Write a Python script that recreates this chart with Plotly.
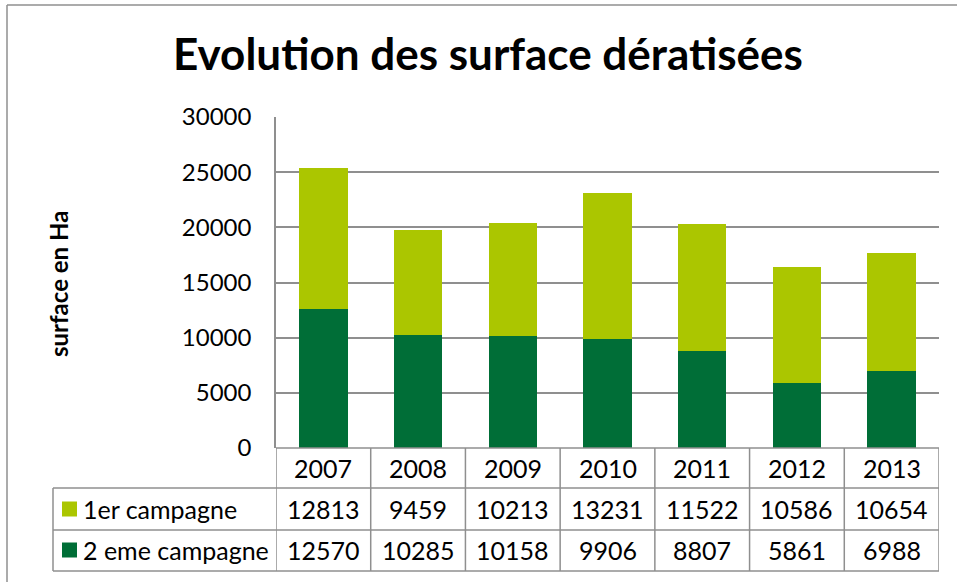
import plotly.graph_objects as go

years = ["2007", "2008", "2009", "2010", "2011", "2012", "2013"]
campagne1 = [12813, 9459, 10213, 13231, 11522, 10586, 10654]
campagne2 = [12570, 10285, 10158, 9906, 8807, 5861, 6988]
series_names = ["1er campagne", "2 eme campagne"]
y_ticks = [0, 5000, 10000, 15000, 20000, 25000, 30000]
title_text = "Evolution des surface dératisées"
y_title = "surface en Ha"

W, H = 957, 582
LIGHT = "#ABC600"
DARK = "#006E37"
GRID = "#8f8f8f"
FONT = "Lato"
FS = 25


def px(x):
    return x / W


def py(y):
    return 1 - y / H


idx = list(range(len(years)))

fig = go.Figure()
fig.add_bar(x=idx, y=campagne2, name=series_names[1], marker=dict(color=DARK, line=dict(width=0)),
            hoverinfo="skip")
fig.add_bar(x=idx, y=campagne1, name=series_names[0], marker=dict(color=LIGHT, line=dict(width=0)),
            hoverinfo="skip")

x0p, x1p = 276, 939
top_p, bot_p = 117, 448
row_lines = [488, 530, 571]
row_centers = [468, 509, 550]

fig.update_layout(
    width=W, height=H,
    barmode="stack", bargap=0.49,
    showlegend=False,
    paper_bgcolor="white", plot_bgcolor="white",
    margin=dict(l=0, r=0, t=0, b=0, autoexpand=False),
    font=dict(family=FONT, color="black", size=FS),
    title=dict(text="<b>" + title_text + "</b>", x=488 / W, xanchor="center",
               y=py(55), yanchor="middle", font=dict(size=44, family=FONT, color="black")),
    xaxis=dict(domain=[px(x0p), px(x1p)], range=[-0.5, len(years) - 0.5],
               showticklabels=False, showgrid=False, zeroline=False, showline=False, ticks=""),
    yaxis=dict(domain=[py(bot_p), py(top_p)], range=[0, 30000], tickvals=y_ticks,
               tickformat="d",
               showgrid=True, gridcolor=GRID, gridwidth=1.5, zeroline=False,
               showline=True, linecolor=GRID, linewidth=1.5, ticks="",
               ticklabelstandoff=18, tickfont=dict(size=24, family=FONT)),
)

shapes = []
line = dict(color=GRID, width=1.5)
# outer chart frame (left and top)
shapes.append(dict(type="line", xref="paper", yref="paper", x0=px(7), x1=px(7), y0=py(5), y1=0, line=line))
shapes.append(dict(type="line", xref="paper", yref="paper", x0=px(7), x1=1, y0=py(5), y1=py(5), line=line))
# table horizontal lines
shapes.append(dict(type="line", xref="x", yref="paper", x0=-0.5, x1=len(years) - 0.5,
                   y0=py(bot_p), y1=py(bot_p), line=line))
for yl in row_lines:
    shapes.append(dict(type="line", xref="paper", yref="paper", x0=px(53), x1=px(x1p), y0=py(yl), y1=py(yl), line=line))
# table vertical lines
for i in range(len(years) + 1):
    shapes.append(dict(type="line", xref="x", yref="paper", x0=i - 0.5, x1=i - 0.5,
                       y0=py(bot_p), y1=py(row_lines[-1]), line=line))
shapes.append(dict(type="line", xref="paper", yref="paper", x0=px(53), x1=px(53),
                   y0=py(row_lines[0]), y1=py(row_lines[-1]), line=line))
# legend keys
for k, col in enumerate([LIGHT, DARK]):
    cy = row_centers[k + 1]
    shapes.append(dict(type="rect", xref="paper", yref="paper", x0=px(62), x1=px(77),
                       y0=py(cy + 7.5), y1=py(cy - 7.5), fillcolor=col, line=dict(width=0)))

annotations = []
for i, yr in enumerate(years):
    annotations.append(dict(x=i, y=py(row_centers[0]), xref="x", yref="paper", text=yr,
                            showarrow=False, xanchor="center", yanchor="middle", font=dict(size=FS)))
    annotations.append(dict(x=i, y=py(row_centers[1]), xref="x", yref="paper", text=str(campagne1[i]),
                            showarrow=False, xanchor="center", yanchor="middle", font=dict(size=FS)))
    annotations.append(dict(x=i, y=py(row_centers[2]), xref="x", yref="paper", text=str(campagne2[i]),
                            showarrow=False, xanchor="center", yanchor="middle", font=dict(size=FS)))
for k, nm in enumerate(series_names):
    annotations.append(dict(x=px(81), y=py(row_centers[k + 1]), xref="paper", yref="paper", text=nm,
                            showarrow=False, xanchor="left", yanchor="middle", font=dict(size=FS)))
annotations.append(dict(x=px(58), y=py(284), xref="paper", yref="paper", text="<b>" + y_title + "</b>",
                        textangle=-90, showarrow=False, xanchor="center", yanchor="middle",
                        font=dict(size=24)))

fig.update_layout(shapes=shapes, annotations=annotations)
fig.write_html("out.html", config={"displayModeBar": False},
               post_script="document.body.style.margin='0';")
